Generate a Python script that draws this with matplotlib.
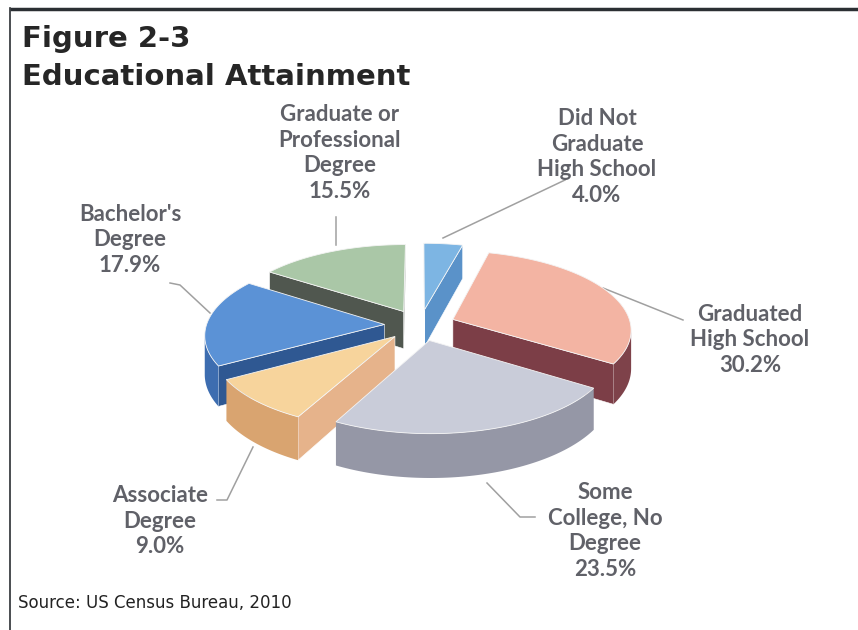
import numpy as np
import matplotlib
matplotlib.use('Agg')
from matplotlib import pyplot as plt
from matplotlib.patches import Polygon

# data, clockwise from 12 o'clock
labels = ['Did Not\nGraduate\nHigh School', 'Graduated\nHigh School',
          'Some\nCollege, No\nDegree', 'Associate\nDegree',
          "Bachelor's\nDegree", 'Graduate or\nProfessional\nDegree']
values = [4.0, 30.2, 23.5, 9.0, 17.9, 15.5]
top_colors = ['#7db5e3', '#f3b4a3', '#c9ccd9', '#f7d49c', '#5b92d6', '#aac7a7']
cut_colors = ['#5a92c9', '#7c3e47', '#8f91a0', '#e6b38b', '#2f5892', '#50574f']
wall_colors = ['#4d87c0', '#7e424a', '#9597a6', '#d9a470', '#3d6db0', '#5a615a']

# label anchor (text centre) and leader line points, in pixels
label_pos = [(597, 157), (750, 340), (605, 531), (160, 521), (130, 240), (340, 153)]
leaders = [[(565, 180), (443, 238)],
           [(683, 320), (603, 288)],
           [(535, 517), (520, 517), (487, 483)],
           [(217, 500), (227, 500), (253, 447)],
           [(170, 283), (180, 285), (210, 313)],
           [(336, 217), (336, 245)]]

CX, CY = 420, 325
RX, RY = 178, 78
P = 0.12
DEPTH = 38
EXPLODE = 0.2
CAM = -1.0 / P


def proj(wx, wy, z):
    s = 1.0 / (1.0 + P * wy)
    return CX + RX * wx * s, CY - RY * wy * s + DEPTH * z * s


fig = plt.figure(figsize=(8.58, 6.3), dpi=100)
ax = fig.add_axes([0, 0, 1, 1])
ax.set_xlim(0, 858)
ax.set_ylim(630, 0)
ax.axis('off')

# frame: top and left rules
ax.plot([10, 858], [9, 9], color='#2b2f33', lw=2.5, solid_capstyle='butt')
ax.plot([10, 10], [8, 630], color='#2b2f33', lw=1.2)

ax.text(22, 39, 'Figure 2-3', fontsize=21, fontweight='bold',
        color='#262626', va='center', ha='left')
ax.text(22, 77, 'Educational Attainment', fontsize=21, fontweight='bold',
        color='#262626', va='center', ha='left')
ax.text(18, 603, 'Source: US Census Bureau, 2010', fontsize=12,
        color='#222222', va='center', ha='left')

# slice angles (ccw degrees), going clockwise from 90
total = sum(values)
slices = []
start = 90.0
for i, v in enumerate(values):
    sweep = 360.0 * v / total
    a2 = start
    a1 = start - sweep
    slices.append((i, np.radians(a1), np.radians(a2)))
    start = a1

order = sorted(slices, key=lambda s: -np.sin((s[1] + s[2]) / 2))

for i, a1, a2 in order:
    m = (a1 + a2) / 2
    ox, oy = EXPLODE * np.cos(m), EXPLODE * np.sin(m)
    t = np.linspace(a1, a2, 80)
    ax_x, ax_y = ox + np.cos(t), oy + np.sin(t)

    # radial cut faces
    for a, nrm in ((a1, (np.sin(a1), -np.cos(a1))), (a2, (-np.sin(a2), np.cos(a2)))):
        if nrm[0] * (0 - ox) + nrm[1] * (CAM - oy) > 0:
            ex, ey = ox + np.cos(a), oy + np.sin(a)
            pts = [proj(ox, oy, 0), proj(ex, ey, 0), proj(ex, ey, 1), proj(ox, oy, 1)]
            ax.add_patch(Polygon(pts, closed=True, fc=cut_colors[i],
                                 ec='#ffffff', lw=0.4, zorder=2))

    # outer wall, the part facing the viewer
    vis = (-ax_x) * np.cos(t) + (CAM - ax_y) * np.sin(t) > 0
    if vis.any():
        idx = np.where(vis)[0]
        tx, ty = ax_x[idx], ax_y[idx]
        top = [proj(x, y, 0) for x, y in zip(tx, ty)]
        bot = [proj(x, y, 1) for x, y in zip(tx, ty)][::-1]
        ax.add_patch(Polygon(top + bot, closed=True, fc=wall_colors[i],
                             ec='none', zorder=2))

    # top face
    pts = [proj(ox, oy, 0)] + [proj(x, y, 0) for x, y in zip(ax_x, ax_y)]
    ax.add_patch(Polygon(pts, closed=True, fc=top_colors[i],
                         ec='#f4f4f4', lw=0.6, zorder=2))

for i, lab in enumerate(labels):
    x, y = label_pos[i]
    ax.text(x, y, '{}\n{:.1f}%'.format(lab, values[i]), ha='center',
            va='center', fontsize=16, fontweight='bold', color='#606168',
            family='Lato', linespacing=1.26, zorder=5)
    lx, ly = zip(*leaders[i])
    ax.plot(lx, ly, color='#a0a0a0', lw=1.1, zorder=1)

fig.savefig('out.png', dpi=100)
